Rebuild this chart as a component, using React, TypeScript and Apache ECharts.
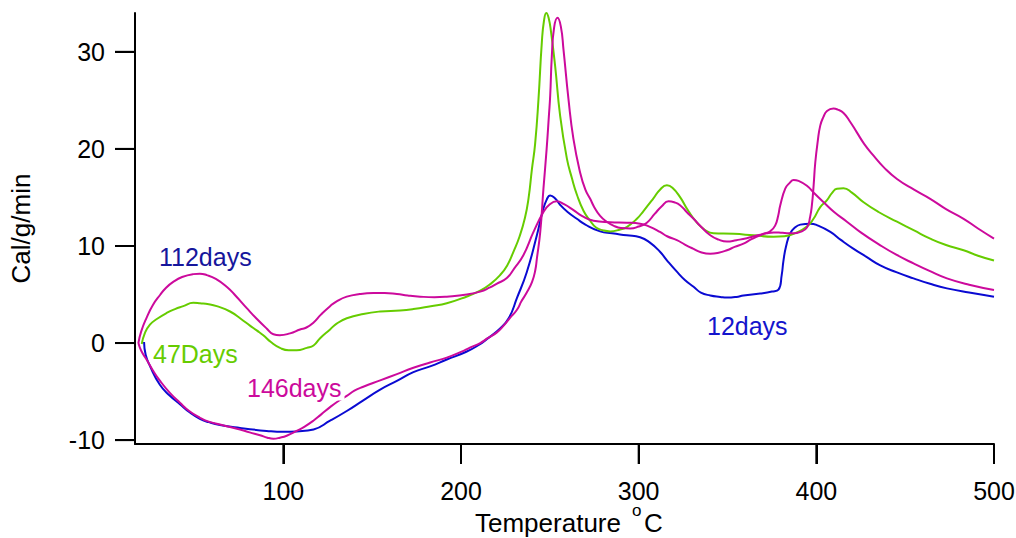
import React, { useEffect, useRef } from "react";
import * as echarts from "echarts";

const xTicks = [100, 200, 300, 400, 500];
const yTicks = [-10, 0, 10, 20, 30];
const X_MIN = 16.5;
const X_MAX = 500;
const Y_MIN = -10.4;
const Y_MAX = 34;

const days12: number[][] = [
  [21.6, 0.1], [22.5, -1.2], [25, -2.4], [30.5, -4.3], [36, -5.4], [41.8, -6.3], [47, -7.1], [53, -7.8],
  [58, -8.15], [64.3, -8.45], [75.6, -8.75], [90.6, -9.05], [100, -9.15], [107.5, -9.1], [117, -8.9],
  [126.3, -8.0], [135.7, -7.0], [145, -5.9], [154.5, -4.8], [163.9, -3.9], [173.2, -3.0], [182.6, -2.4],
  [192, -1.7], [203, -0.9], [210, -0.2], [214.5, 0.4], [222, 1.5], [227, 2.6], [231.4, 4.6], [237, 7.3],
  [242.7, 11.1], [246, 13.6], [248.3, 14.8], [250.2, 15.2], [253, 14.9], [256, 14.2], [260, 13.5],
  [265.2, 12.8], [270, 12.2], [278.3, 11.5], [285, 11.3], [293.3, 11.1], [300.8, 10.9], [306, 10.4],
  [312, 9.4], [316, 8.5], [321.5, 7.35], [326, 6.5], [330.9, 5.8], [335, 5.2], [340.3, 4.9], [345.9, 4.75],
  [349.7, 4.68], [355, 4.75], [359, 4.9], [368.4, 5.1], [375, 5.3], [378.7, 5.5], [380.5, 7.0], [381.5, 8.5],
  [383, 10.0], [385.3, 11.3], [388, 11.9], [391, 12.2], [396.6, 12.3], [401, 12.1], [407.9, 11.45],
  [414, 10.6], [421, 9.7], [428, 8.9], [436, 8.0], [445, 7.3], [454.7, 6.66], [464, 6.1], [473.5, 5.63],
  [486, 5.2], [500, 4.78],
];

const days47: number[][] = [
  [20.3, -0.1], [22, 1.0], [24.9, 1.9], [29, 2.5], [34.3, 3.1], [39, 3.5], [43.7, 3.8], [49.3, 4.15],
  [53.1, 4.1], [58, 4.0], [62.5, 3.8], [70, 3.25], [76, 2.5], [81.2, 1.8], [85, 1.3], [88.7, 0.8], [93, 0.1],
  [98.1, -0.5], [103, -0.75], [107.5, -0.75], [113.2, -0.5], [117, -0.25], [120.7, 0.5], [126.3, 1.4],
  [130, 2.0], [135.7, 2.55], [145, 3.0], [154.5, 3.25], [165.7, 3.35], [173.2, 3.5], [183, 3.8], [192, 4.1],
  [203.3, 4.8], [210.8, 5.4], [216, 6.0], [222, 7.0], [226, 8.0], [229.5, 9.4], [233, 11.0], [236, 12.9],
  [238, 14.9], [239.9, 17.9], [241.7, 20.5], [243.6, 25.1], [245.5, 31.0], [246.7, 33.2], [248, 34.0],
  [249.3, 33.5], [250.7, 32.0], [253, 28.5], [255.8, 23.4], [259.6, 19.0], [262.4, 17.0], [265.2, 15.3],
  [269, 13.6], [272.7, 12.6], [276, 11.9], [280.2, 11.6], [284, 11.5], [289.6, 11.7], [293.3, 11.95],
  [299, 12.8], [302.7, 13.6], [308.3, 14.9], [312, 15.8], [315.9, 16.25], [319, 16.0], [323.4, 15.0],
  [328, 13.6], [332.8, 12.4], [337, 11.7], [342.1, 11.3], [353.4, 11.25], [364.6, 11.1], [375.9, 10.95],
  [382, 11.0], [389, 11.4], [394.7, 12.0], [398.4, 12.8], [402.2, 14.0], [405.9, 14.7], [409, 15.5],
  [411.6, 15.9], [415.3, 15.95], [420, 15.5], [426.6, 14.5], [435, 13.5], [445.4, 12.5], [455, 11.6],
  [464.1, 10.76], [473, 10.1], [482.9, 9.56], [491, 9.0], [500, 8.5],
];

const days112: number[][] = [
  [18.4, 0], [20, 1.2], [23, 2.6], [26.5, 3.9], [30.6, 4.95], [34, 5.7], [38, 6.3], [43, 6.8], [49.3, 7.1],
  [53, 7.15], [56.9, 7.0], [62, 6.6], [68.1, 5.8], [73, 4.9], [79.4, 3.6], [85, 2.5], [90.6, 1.5],
  [94.4, 0.9], [98, 0.8], [103.8, 1.0], [109.4, 1.4], [113, 1.6], [116.9, 2.1], [121, 2.9], [126.3, 3.8],
  [130, 4.3], [135.7, 4.78], [143, 5.05], [150.7, 5.15], [157, 5.15], [163.9, 5.05], [170, 4.9], [177, 4.78],
  [185, 4.72], [192, 4.78], [203.3, 5.0], [210.8, 5.3], [216, 5.7], [220, 6.1], [225.8, 6.7], [230, 7.7],
  [235.1, 9.05], [240.8, 11.45], [246.4, 13.5], [250, 14.3], [253.9, 14.6], [258, 14.3], [263.3, 13.7],
  [268, 13.1], [274.6, 12.6], [284, 12.45], [293.3, 12.4], [300.8, 12.3], [306, 12.0], [312, 11.45],
  [316, 11.0], [321.5, 10.6], [326, 10.15], [330.9, 9.7], [335, 9.35], [340.3, 9.2], [345, 9.3],
  [349.7, 9.56], [354, 9.9], [359, 10.25], [363.5, 10.7], [368.4, 11.1], [372, 11.3], [376, 11.4],
  [381, 11.35], [387.2, 11.3], [391, 11.45], [394.7, 11.9], [396.5, 13.0], [397.5, 14.2], [398.5, 16.3],
  [399.4, 18.6], [400.8, 20.8], [402.2, 22.4], [404, 23.3], [406, 23.9], [409.6, 24.15], [412, 24.05],
  [415.3, 23.7], [419, 22.8], [422.8, 21.7], [427, 20.5], [432.2, 19.3], [438, 18.1], [445.4, 16.9],
  [455, 15.8], [464.1, 14.86], [473, 13.8], [482.9, 12.8], [491, 11.8], [500, 10.76],
];

const days146: number[][] = [
  [18.4, 0], [20, -0.8], [23, -1.7], [26.5, -2.8], [30.6, -3.9], [36, -5.1], [41.8, -6.15], [47, -7.0],
  [53.1, -7.7], [58, -8.1], [64.3, -8.4], [70, -8.65], [75.6, -8.9], [81, -9.2], [86.9, -9.5], [91, -9.75],
  [94.4, -9.85], [98.1, -9.75], [101.9, -9.55], [107.5, -9.05], [112, -8.6], [116.9, -8.0], [121, -7.4],
  [126.3, -6.6], [130, -6.1], [135.7, -5.45], [140, -4.9], [145, -4.5], [154.5, -3.85], [163.9, -3.2],
  [173.2, -2.55], [182.6, -2.0], [192, -1.5], [201.4, -0.8], [206, -0.4], [210.8, 0.0], [215, 0.5],
  [220.2, 1.1], [224, 1.8], [227.6, 2.6], [231.4, 3.4], [234, 4.3], [237, 5.2], [240, 6.3], [241.8, 7.5],
  [242.7, 8.7], [244.6, 11.45], [246.4, 15.9], [248.2, 20.0], [249.5, 23.5], [250.2, 25.5], [251.1, 29.5],
  [252.4, 32.5], [254.3, 33.5], [256.2, 32.6], [257.7, 30.2], [260.5, 25.1], [263.3, 21.0], [267, 17.6],
  [270, 15.8], [272.7, 14.86], [275, 14.0], [278.3, 13.1], [282, 12.5], [285.8, 12.1], [290, 11.85],
  [295.2, 11.8], [300, 12.0], [304.6, 12.4], [309, 13.3], [313, 14.1], [316.8, 14.6], [320, 14.5],
  [323.3, 14.2], [327, 13.5], [330.9, 12.8], [335, 12.0], [340.3, 11.1], [345, 10.65], [349.7, 10.45],
  [355, 10.6], [360.9, 10.8], [365, 11.0], [370.3, 11.27], [374, 11.5], [376.8, 12.1], [378.5, 13.1],
  [379.7, 14.2], [382.5, 15.9], [385, 16.5], [387.2, 16.8], [390, 16.7], [394.7, 16.2], [399, 15.4],
  [404.1, 14.5], [410, 13.5], [417.2, 12.5], [425, 11.4], [436, 10.07], [445, 9.1], [454.7, 8.2],
  [464, 7.4], [473.5, 6.66], [486, 6.0], [500, 5.46],
];

const FONT = "'Liberation Sans', Arial, Helvetica, sans-serif";
const BLUE = "#0a0ad2";
const GREEN = "#66cc00";
const MAGENTA = "#cc0a9c";

export default function App() {
  const ref = useRef<HTMLDivElement>(null);
  useEffect(() => {
    if (!ref.current) return;
    const chart = echarts.init(ref.current, null, { renderer: "svg" });
    const mkSeries = (name: string, data: number[][], color: string) => ({
      name,
      type: "line",
      data,
      showSymbol: false,
      symbol: "none",
      smooth: 0.5,
      lineStyle: { color, width: 2 },
      itemStyle: { color },
      z: 3,
    });
    chart.setOption({
      animation: false,
      grid: { left: 135, right: 22, top: 13, bottom: 94, outerBoundsMode: "none", containLabel: false },
      xAxis: {
        type: "value",
        min: X_MIN,
        max: X_MAX,
        axisLine: { show: true, onZero: false, lineStyle: { color: "#000", width: 2 } },
        axisTick: { show: true, inside: false, length: 20, customValues: xTicks, lineStyle: { color: "#000", width: 2 } },
        axisLabel: { customValues: xTicks, color: "#000", fontSize: 25, fontFamily: FONT, margin: 34 },
        splitLine: { show: false },
      },
      yAxis: {
        type: "value",
        min: Y_MIN,
        max: Y_MAX,
        name: "Cal/g/min",
        nameLocation: "middle",
        nameGap: 101,
        nameTextStyle: { color: "#000", fontSize: 26, fontFamily: FONT },
        axisLine: { show: true, onZero: false, lineStyle: { color: "#000", width: 2 } },
        axisTick: { show: true, inside: false, length: 20, customValues: yTicks, lineStyle: { color: "#000", width: 2 } },
        axisLabel: { customValues: yTicks, color: "#000", fontSize: 25, fontFamily: FONT, margin: 30 },
        splitLine: { show: false },
      },
      series: [
        mkSeries("12days", days12, BLUE),
        mkSeries("47Days", days47, GREEN),
        mkSeries("112days", days112, MAGENTA),
        mkSeries("146days", days146, MAGENTA),
      ],
    });

    const tickRects: any[] = [];
    xTicks.forEach((v) => {
      const p = chart.convertToPixel({ gridIndex: 0 }, [v, Y_MIN]) as number[];
      tickRects.push({
        type: "rect", z: 50, silent: true,
        shape: { x: p[0] - 1, y: p[1], width: 2, height: 20 },
        style: { fill: "#000" },
      });
    });
    yTicks.forEach((v) => {
      const p = chart.convertToPixel({ gridIndex: 0 }, [X_MIN, v]) as number[];
      tickRects.push({
        type: "rect", z: 50, silent: true,
        shape: { x: p[0] - 20, y: p[1] - 1, width: 20, height: 2 },
        style: { fill: "#000" },
      });
    });

    chart.setOption({
      graphic: [
        ...tickRects,
        { type: "text", x: 475, y: 523, z: 10, style: { text: "Temperature", fill: "#000", fontSize: 26, fontFamily: FONT, verticalAlign: "middle" } },
        { type: "text", x: 632, y: 510, z: 10, style: { text: "o", fill: "#000", fontSize: 17, fontFamily: FONT, verticalAlign: "middle" } },
        { type: "text", x: 644, y: 523, z: 10, style: { text: "C", fill: "#000", fontSize: 26, fontFamily: FONT, verticalAlign: "middle" } },
        { type: "text", x: 159, y: 257, z: 10, style: { text: "112days", fill: "#16169c", fontSize: 25, fontFamily: FONT, verticalAlign: "middle" } },
        { type: "text", x: 153, y: 354, z: 10, style: { text: "47Days", fill: GREEN, fontSize: 25, fontFamily: FONT, verticalAlign: "middle" } },
        { type: "text", x: 247, y: 388, z: 10, style: { text: "146days", fill: MAGENTA, fontSize: 25, fontFamily: FONT, verticalAlign: "middle", backgroundColor: "#fff", padding: [0, 3, 0, 0] } },
        { type: "text", x: 707, y: 326, z: 10, style: { text: "12days", fill: "#1414cc", fontSize: 25, fontFamily: FONT, verticalAlign: "middle" } },
      ],
    });
    return () => chart.dispose();
  }, []);
  return <div ref={ref} style={{ position: "fixed", left: 0, top: 0, width: 1016, height: 538, background: "#fff" }} />;
}
